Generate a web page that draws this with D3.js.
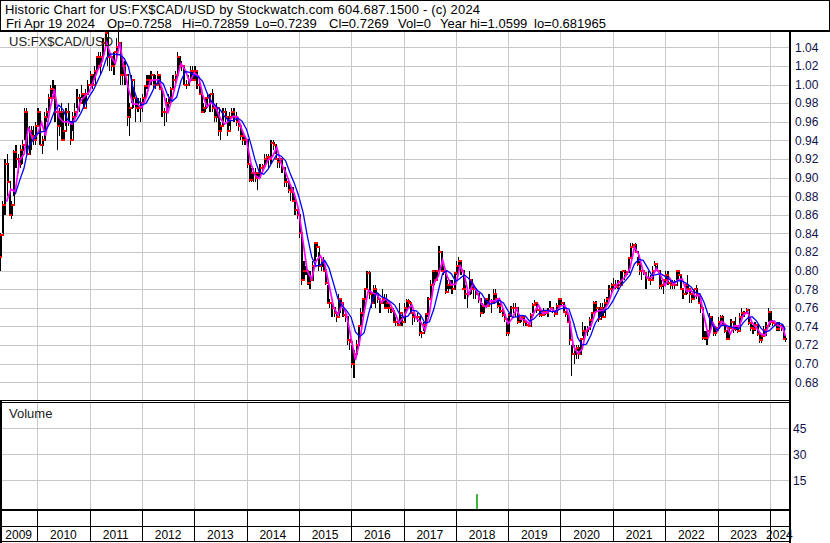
<!DOCTYPE html>
<html><head><meta charset="utf-8">
<script src="https://cdn.jsdelivr.net/npm/d3@7"></script>
<style>
html,body{margin:0;padding:0;background:#fff;}
svg{display:block;font-family:"Liberation Sans",Arial,sans-serif;}
</style></head><body>
<svg id="c" width="830" height="543"></svg>
<script>
// ---------- DATA (half-monthly bars from 2009-04-01) ----------
const priceLow = [
 .79,.80,.84,.86,.88,.86,.855,.88,.91,.905,.91,.915,.94,.925,.925,.93,.935,.935,
 .955,.935,.925,.94,.96,.97,.985,.99,.96,.93,.945,.94,.94,.955,.955,.935,.95,.965,.975,.97,.985,.975,.98,.99,
 1.0,.995,1.005,1.01,1.02,1.01,1.03,1.04,1.02,1.015,1.015,1.01,1.03,1.04,1.0,1.0,1.0,.955,.945,.98,.975,.96,.97,.96,
 .97,.985,.995,1.0,1.0,.995,.995,1.0,.995,.965,.955,.96,.975,.98,.995,1.0,1.01,1.015,1.015,1.0,.995,1.0,1.005,1.005,
 1.005,.995,.99,.97,.97,.97,.975,.97,.97,.96,.96,.945,.94,.955,.96,.945,.955,.965,.96,.955,.95,.94,.935,.935,
 .91,.895,.895,.895,.895,.887,.90,.905,.91,.915,.91,.915,.93,.925,.91,.91,.905,.89,.89,.883,.875,.875,.86,.855,
 .835,.785,.79,.795,.785,.78,.79,.81,.815,.80,.80,.80,.785,.765,.76,.75,.75,.745,.755,.755,.75,.745,.72,.715,
 .695,.685,.71,.72,.74,.75,.755,.78,.77,.76,.765,.76,.765,.755,.765,.76,.76,.755,.755,.745,.74,.74,.745,.74,
 .745,.755,.76,.755,.742,.745,.745,.73,.728,.735,.74,.75,.77,.785,.785,.79,.80,.80,.795,.775,.78,.78,.775,.78,
 .795,.80,.795,.78,.77,.76,.78,.775,.77,.77,.765,.75,.755,.755,.76,.765,.755,.765,.77,.76,.755,.75,.745,.73,
 .73,.75,.755,.75,.743,.745,.745,.74,.74,.74,.745,.755,.763,.755,.75,.75,.752,.752,.75,.76,.755,.75,.752,.76,
 .762,.755,.75,.745,.72,.687,.70,.705,.705,.71,.73,.73,.73,.74,.745,.755,.757,.745,.75,.75,.755,.763,.77,.775,
 .78,.78,.78,.785,.785,.79,.795,.80,.815,.825,.82,.805,.795,.79,.795,.78,.79,.785,.79,.805,.80,.78,.78,.775,
 .785,.785,.78,.78,.78,.79,.79,.78,.77,.775,.775,.765,.765,.77,.77,.765,.755,.725,.725,.72,.73,.74,.73,.73,
 .735,.745,.74,.733,.725,.727,.738,.733,.735,.733,.743,.75,.75,.755,.742,.735,.732,.735,.73,.722,.722,.73,.73,.745,
 .742,.74,.74,.735,.735,.735,.725,.723
];
const priceHigh = [
 .82,.84,.875,.92,.925,.885,.875,.93,.935,.925,.935,.94,.975,.975,.955,.955,.955,.96,
 .975,.97,.945,.97,.975,.99,1.0,1.005,1.0,.97,.975,.98,.97,.975,.98,.96,.97,.98,.995,.99,1.0,.99,.995,1.005,
 1.015,1.01,1.02,1.03,1.035,1.035,1.05,1.06,1.05,1.035,1.03,1.035,1.05,1.058,1.04,1.025,1.025,1.0,.98,1.01,.995,.985,.985,.985,
 .99,1.0,1.01,1.01,1.015,1.01,1.01,1.015,1.01,.995,.975,.985,.99,.997,1.01,1.015,1.035,1.03,1.025,1.02,1.005,1.01,1.02,1.02,
 1.02,1.015,1.005,.99,.98,.985,.99,.99,.995,.975,.98,.97,.96,.975,.975,.965,.97,.975,.975,.97,.96,.955,.95,.945,
 .94,.915,.91,.91,.91,.905,.915,.915,.925,.925,.925,.94,.94,.935,.92,.92,.92,.91,.90,.90,.89,.89,.88,.865,
 .86,.84,.81,.805,.80,.80,.81,.83,.83,.82,.815,.815,.80,.785,.77,.765,.76,.755,.775,.77,.76,.755,.75,.725,
 .72,.715,.725,.74,.76,.77,.78,.80,.80,.775,.785,.785,.775,.77,.78,.775,.775,.765,.76,.76,.75,.745,.765,.75,
 .765,.77,.77,.767,.755,.752,.755,.75,.735,.745,.755,.772,.79,.80,.80,.80,.826,.82,.805,.80,.79,.79,.79,.797,
 .81,.815,.81,.80,.785,.78,.80,.79,.785,.78,.775,.765,.765,.77,.77,.775,.77,.78,.78,.77,.765,.76,.752,.745,
 .755,.762,.765,.765,.755,.75,.752,.75,.745,.745,.755,.765,.768,.765,.76,.755,.76,.757,.76,.767,.76,.757,.765,.77,
 .768,.765,.757,.755,.75,.72,.72,.72,.72,.727,.745,.74,.74,.75,.755,.767,.767,.76,.765,.765,.77,.772,.785,.787,
 .792,.79,.79,.80,.80,.80,.80,.815,.83,.83,.83,.815,.81,.80,.80,.795,.80,.795,.805,.81,.805,.795,.79,.79,
 .80,.80,.79,.79,.79,.80,.80,.795,.78,.785,.795,.78,.775,.78,.785,.775,.765,.755,.735,.735,.755,.75,.74,.74,
 .75,.752,.752,.742,.735,.74,.748,.745,.75,.74,.755,.76,.757,.76,.755,.745,.742,.745,.74,.735,.73,.74,.745,.76,
 .755,.747,.745,.745,.745,.742,.74,.73
];
const priceClose = [
 .815,.838,.87,.915,.895,.86,.87,.928,.92,.915,.93,.935,.97,.925,.95,.945,.94,.955,
 .97,.935,.94,.965,.97,.985,.995,.985,.97,.955,.97,.94,.95,.97,.96,.94,.965,.97,.985,.98,.99,.975,.99,1.0,
 1.01,1.0,1.015,1.03,1.02,1.03,1.045,1.055,1.03,1.03,1.02,1.035,1.04,1.045,1.01,1.02,1.01,.965,.975,1.005,.985,.975,.975,.98,
 .985,.998,1.005,1.005,1.01,1.0,1.0,1.01,.995,.97,.97,.98,.985,.995,1.005,1.01,1.03,1.02,1.02,1.0,1.0,1.005,1.015,1.005,
 1.015,1.0,.99,.97,.975,.985,.985,.99,.975,.965,.975,.95,.955,.97,.965,.95,.965,.97,.965,.96,.955,.945,.94,.94,
 .915,.897,.905,.905,.90,.905,.91,.912,.92,.922,.92,.937,.935,.92,.917,.92,.91,.895,.895,.887,.885,.875,.865,.86,
 .84,.79,.80,.80,.787,.79,.805,.83,.825,.805,.81,.80,.787,.765,.765,.76,.755,.75,.77,.765,.752,.75,.725,.723,
 .70,.71,.72,.74,.755,.77,.78,.797,.775,.765,.78,.775,.77,.765,.77,.76,.765,.76,.757,.745,.745,.742,.755,.745,
 .76,.767,.765,.755,.75,.75,.75,.733,.733,.742,.753,.77,.785,.80,.79,.80,.82,.80,.80,.777,.785,.785,.78,.797,
 .805,.81,.80,.78,.775,.775,.79,.78,.78,.775,.77,.755,.762,.77,.762,.767,.765,.775,.77,.762,.757,.752,.748,.733,
 .752,.76,.76,.76,.745,.748,.75,.745,.742,.74,.752,.763,.765,.758,.752,.752,.756,.755,.757,.76,.757,.753,.762,.77,
 .765,.756,.753,.745,.725,.71,.715,.717,.71,.727,.735,.735,.737,.747,.755,.765,.76,.748,.76,.75,.765,.77,.78,.785,
 .785,.782,.788,.785,.80,.796,.798,.814,.825,.828,.82,.807,.80,.80,.797,.792,.79,.79,.80,.807,.80,.783,.785,.79,
 .795,.787,.785,.785,.785,.80,.795,.78,.775,.785,.78,.775,.77,.78,.775,.765,.76,.728,.728,.735,.75,.74,.733,.738,
 .745,.75,.742,.735,.727,.738,.745,.737,.74,.735,.75,.755,.755,.758,.744,.738,.737,.742,.732,.725,.73,.736,.74,.756,
 .745,.744,.742,.737,.74,.738,.727,.727
];
// fast moving average (magenta), month-end values from May 2009
const maFast = [
 .874,.8875,.885,.919,.925,.954,.941,.946,
 .959,.945,.974,.995,.965,.96,.96,.9575,.966,.9825,.9875,.9925,
 1.005,1.016,1.025,1.045,1.03,1.0225,1.0445,1.016,.995,.979,.979,.975,
 .986,1.004,1.005,1.005,.991,.969,.9855,1.005,1.0225,1.015,1.0025,1.0125,
 1.009,.989,.976,.981,.975,.964,.9575,.961,.966,.965,.951,.941,
 .915,.9025,.899,.909,.919,.9225,.9325,.915,.906,.893,.8825,.865,
 .83,.80,.791,.81,.816,.8075,.784,.761,.7525,.764,.7525,.7275,
 .704,.724,.755,.779,.776,.774,.766,.77,.764,.755,.744,.75,
 .759,.763,.7485,.745,.736,.754,.786,.794,.8115,.794,.785,.7855,
 .805,.796,.774,.786,.776,.764,.761,.7675,.7675,.77,.7575,.743,
 .749,.759,.748,.747,.7425,.755,.763,.754,.755,.759,.7555,.762,
 .7625,.752,.719,.711,.7155,.736,.74,.7555,.757,.7575,.765,.779,
 .7855,.789,.794,.8025,.825,.8175,.799,.7925,.7925,.8025,.795,.784,
 .7925,.785,.79,.791,.7775,.779,.7725,.774,.75,.729,.744,.735,
 .7455,.742,.732,.741,.7395,.752,.7555,.744,.7385,.732,.7305,.745,
 .746,.741,.739,.7295
];
// slow moving average (blue), month-end values from Jul 2009
const maSlow = [
 .882,.897,.910,.933,.940,.947,
 .949,.950,.959,.971,.978,.973,.962,.959,.961,.969,.979,.9875,
 .995,1.0045,1.015,1.029,1.033,1.0325,1.032,1.028,1.0185,.997,.984,.978,
 .980,.988,.998,1.0047,1.0003,.988,.982,.9865,1.004,1.014,1.013,1.010,
 1.008,1.0035,.991,.982,.977,.973,.9655,.961,.9615,.964,.9607,.952,
 .936,.9195,.9055,.9035,.909,.917,.925,.923,.918,.905,.894,.880,
 .862,.838,.815,.805,.806,.811,.8025,.786,.770,.762,.757,.750,
 .734,.729,.733,.7527,.770,.7763,.772,.770,.7667,.763,.7543,.7497,
 .751,.7573,.7568,.7522,.7432,.745,.7587,.778,.797,.7998,.7968,.7882,
 .7918,.7955,.7917,.7853,.7787,.7753,.767,.7642,.7653,.7683,.765,.7568,
 .7498,.7503,.752,.7513,.7458,.7482,.7535,.7573,.7573,.756,.7565,.7588,
 .760,.7588,.7445,.728,.720,.721,.7305,.7438,.7508,.7567,.7598,.7672,
 .7765,.7845,.7895,.7952,.8072,.812,.811,.803,.7947,.7958,.7967,.7938,
 .7905,.7872,.7892,.7887,.7862,.7825,.7763,.7752,.7655,.751,.741,.736,
 .7415,.7408,.7398,.7383,.7375,.7442,.749,.7505,.746,.7382,.7337,.7358,
 .7405,.744,.742,.7365
];
const volumeDates = ["2018-05-28"];
const volumeValues = [7];
const priceTicks = [0.68,0.70,0.72,0.74,0.76,0.78,0.80,0.82,0.84,0.86,0.88,0.90,0.92,0.94,0.96,0.98,1.00,1.02,1.04];
const volumeTicks = [15,30,45];
const years = [2009,2010,2011,2012,2013,2014,2015,2016,2017,2018,2019,2020,2021,2022,2023,2024];
const titleLine = "Historic Chart for US:FX$CAD/USD by Stockwatch.com 604.687.1500 - (c) 2024";
const infoFields = ["Fri Apr 19 2024","Op=0.7258","Hi=0.72859","Lo=0.7239","Cl=0.7269","Vol=0","Year hi=1.0599","lo=0.681965"];
const symbolLabel = "US:FX$CAD/USD";

// ---------- LAYOUT ----------
const svg = d3.select("#c");
const plotR = 789, plotT = 32, plotB = 400, volT = 402, volB = 509;
const x = d3.scaleTime().domain([new Date(2010,0,1), new Date(2024,0,1)]).range([37.3, 769.8]);
const y = d3.scaleLinear().domain([0.68,1.04]).range([382.3,47.3]);
const yv = d3.scaleLinear().domain([0,45]).range([506.3,428.3]);
const GRID = "#c8c8c8";

svg.append("rect").attr("width",830).attr("height",543).attr("fill","#fff");

// grid lines
const grid = svg.append("g").attr("shape-rendering","crispEdges").attr("stroke",GRID);
grid.selectAll(".hg").data(priceTicks).join("line")
  .attr("x1",0).attr("x2",plotR).attr("y1",d=>Math.round(y(d))+0.5).attr("y2",d=>Math.round(y(d))+0.5);
grid.selectAll(".vg").data(volumeTicks).join("line")
  .attr("x1",0).attr("x2",plotR).attr("y1",d=>Math.round(yv(d))+0.5).attr("y2",d=>Math.round(yv(d))+0.5);
const yearStarts = years.slice(1).map(yr=>new Date(yr,0,1));
grid.selectAll(".yg").data(yearStarts).join("line")
  .attr("x1",d=>Math.round(x(d))+0.5).attr("x2",d=>Math.round(x(d))+0.5).attr("y1",plotT).attr("y2",plotB);
grid.selectAll(".yg2").data(yearStarts).join("line")
  .attr("x1",d=>Math.round(x(d))+0.5).attr("x2",d=>Math.round(x(d))+0.5).attr("y1",volT).attr("y2",volB);

// price data
const n = priceLow.length;
const bars = d3.range(n).map(i=>({
  d0:new Date(2009,3+Math.floor(i/2), i%2?16:1),
  d1: i<n-1 ? new Date(2009,3+Math.floor((i+1)/2), (i+1)%2?16:1) : new Date(2024,3,20),
  lo:priceLow[i], hi:priceHigh[i], cl:priceClose[i], op: i>0?priceClose[i-1]:priceLow[i]
}));
svg.append("clipPath").attr("id","clip").append("rect").attr("x",0).attr("y",plotT).attr("width",plotR-1).attr("height",plotB-plotT);
const plot = svg.append("g").attr("clip-path","url(#clip)");
const barG = plot.append("g").attr("shape-rendering","crispEdges").attr("fill","#000");
// full high-low range column
barG.selectAll(".hl").data(bars).join("rect")
  .attr("x",d=>x(d.d0)).attr("width",1.2)
  .attr("y",d=>y(d.hi)).attr("height",d=>y(d.lo)-y(d.hi));
// open-close body column
barG.selectAll(".oc").data(bars).join("rect")
  .attr("x",d=>x(d.d0)+1).attr("width",1)
  .attr("y",d=>y(Math.max(d.op,d.cl))-1).attr("height",d=>Math.abs(y(d.op)-y(d.cl))+2);
const red = plot.append("g").attr("shape-rendering","crispEdges").attr("fill","#ff0000");
red.selectAll(".c").data(bars).join("rect").attr("x",d=>x(d.d1)-2).attr("y",d=>y(d.cl)-1).attr("width",2).attr("height",2);
red.selectAll(".o").data(bars).join("rect").attr("x",d=>x(d.d0)).attr("y",d=>y(d.op)-1).attr("width",1.5).attr("height",2);

const monthEnd = (k, startMonth) => {
  const d = new Date(2009, startMonth + k + 1, 0);
  return d > new Date(2024,3,19) ? new Date(2024,3,19) : d;
};
const fast = maFast.map((v,k)=>({date:monthEnd(k,4), v}));
const slow = maSlow.map((v,k)=>({date:monthEnd(k,6), v}));
const line = d3.line().x(d=>x(d.date)).y(d=>y(d.v));
plot.append("path").datum(fast).attr("d",line).attr("fill","none").attr("stroke","#ff00ff").attr("stroke-width",1.7);
plot.append("path").datum(slow).attr("d",line).attr("fill","none").attr("stroke","#0000ff").attr("stroke-width",1.3);

// volume bars
svg.append("g").selectAll("rect").data(volumeDates.map((d,i)=>({date:new Date(d+"T00:00:00"), v:volumeValues[i]}))).join("rect")
  .attr("x",d=>x(d.date)-1).attr("width",2).attr("y",d=>yv(d.v)).attr("height",d=>volB-yv(d.v)).attr("fill","#3cb43c");

// frames
const fr = svg.append("g").attr("shape-rendering","crispEdges").attr("fill","#000");
fr.append("rect").attr("x",0).attr("y",0).attr("width",830).attr("height",1);
fr.append("rect").attr("x",0).attr("y",0).attr("width",1).attr("height",31);
fr.append("rect").attr("x",829).attr("y",0).attr("width",1).attr("height",31);
fr.append("rect").attr("x",0).attr("y",30).attr("width",830).attr("height",2);
fr.append("rect").attr("x",plotR).attr("y",30).attr("width",2).attr("height",513);
fr.append("rect").attr("x",0).attr("y",plotB).attr("width",plotR).attr("height",1);
fr.append("rect").attr("x",0).attr("y",volT).attr("width",plotR).attr("height",1);
fr.append("rect").attr("x",0).attr("y",plotB).attr("width",2).attr("height",143);
fr.append("rect").attr("x",0).attr("y",volB).attr("width",plotR).attr("height",2);
fr.append("rect").attr("x",0).attr("y",526).attr("width",plotR).attr("height",1);
fr.append("rect").attr("x",0).attr("y",541).attr("width",plotR).attr("height",1);
fr.selectAll(".yb").data(yearStarts).join("rect")
  .attr("x",d=>Math.round(x(d))).attr("y",volB).attr("width",1).attr("height",541-volB);

// y axis labels
const yAxis = d3.axisRight(y).tickValues(priceTicks).tickSize(0).tickPadding(6).tickFormat(d3.format(".2f"));
const ya = svg.append("g").attr("transform",`translate(${plotR},0)`).call(yAxis);
ya.select(".domain").remove();
ya.selectAll("text").attr("font-size",12).attr("font-family","Liberation Sans, Arial, sans-serif").attr("fill","#10104a");
const vAxis = d3.axisRight(yv).tickValues(volumeTicks).tickSize(0).tickPadding(4);
const va = svg.append("g").attr("transform",`translate(${plotR},0)`).call(vAxis);
va.select(".domain").remove();
va.selectAll("text").attr("font-size",12).attr("font-family","Liberation Sans, Arial, sans-serif").attr("fill","#10104a");

// year labels
const bounds = [0, ...yearStarts.map(d=>x(d)), plotR];
svg.append("g").selectAll("text").data(years).join("text")
  .attr("x",(d,i)=>(bounds[i]+bounds[i+1])/2).attr("y",539).attr("text-anchor","middle")
  .attr("font-size",12).attr("fill","#000").text(d=>d);

// header
svg.append("text").attr("x",5).attr("y",14).attr("font-size",13).attr("fill","#000")
  .attr("textLength",475).attr("lengthAdjust","spacing").text(titleLine);
const infoX = [6,107,182,255,329,398,440,534];
svg.append("g").selectAll("text").data(infoFields).join("text")
  .attr("x",(d,i)=>infoX[i]).attr("y",27.5).attr("font-size",13).attr("fill","#000").text(d=>d);
svg.append("text").attr("x",9).attr("y",46).attr("font-size",13).attr("fill","#222").text(symbolLabel);
svg.append("text").attr("x",9).attr("y",417.5).attr("font-size",13).attr("fill","#222").text("Volume");
</script>
</body></html>
